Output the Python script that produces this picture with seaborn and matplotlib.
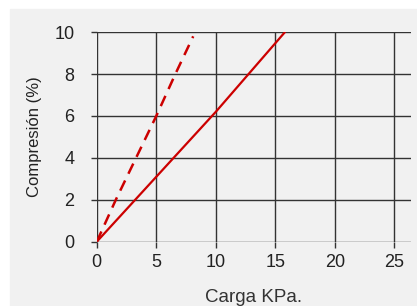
import pandas as pd
import seaborn as sns
import matplotlib.pyplot as plt
from matplotlib.patches import Rectangle

# data
carga_solid = [0, 5, 10, 15.8]
comp_solid = [0, 3.1, 6.2, 10]
carga_dash = [0, 1.6, 3.3, 5, 6.6, 8.1]
comp_dash = [0, 2, 4, 6, 8, 9.8]
x_ticks = [0, 5, 10, 15, 20, 25]
y_ticks = [0, 2, 4, 6, 8, 10]

BG = '#f1f1f1'
RED = '#cc0000'
GRID = '#333333'

sns.set_style('white')
plt.rcParams['font.family'] = ['Liberation Sans', 'DejaVu Sans']

fig = plt.figure(figsize=(4.17, 3.06), dpi=100, facecolor='white')
fig.patches.append(Rectangle((10 / 417, 0), 1, 1 - 9 / 306,
                             transform=fig.transFigure, color=BG, zorder=-5))
ax = fig.add_axes([0.232, 0.210, 0.754, 0.685])
ax.set_facecolor(BG)

solid = pd.DataFrame({'x': carga_solid, 'y': comp_solid})
dash = pd.DataFrame({'x': carga_dash, 'y': comp_dash})

sns.lineplot(data=solid, x='x', y='y', ax=ax, color=RED, lw=1.6,
             sort=False, zorder=3)
sns.lineplot(data=dash, x='x', y='y', ax=ax, color=RED, lw=1.8,
             sort=False, zorder=3, dashes=False, linestyle=(0, (4.5, 3)))

ax.set_xlim(0, 26.4)
ax.set_ylim(0, 10)
ax.set_xticks(x_ticks)
ax.set_yticks(y_ticks)
ax.grid(True, color=GRID, lw=1)
ax.set_axisbelow(True)
for s in ax.spines.values():
    s.set_visible(False)
ax.tick_params(axis='both', length=4, width=1, color=GRID, direction='out',
               labelsize=13, labelcolor='#222222')
ax.tick_params(axis='y', pad=12)
ax.tick_params(axis='x', pad=5)
ax.tick_params(left=True, bottom=True)

ax.set_xlabel('Carga KPa.', fontsize=13.5, color='#333333', labelpad=13)
ax.set_ylabel('Compresión (%)', fontsize=12, color='#222222', labelpad=9)

fig.savefig('out.png', dpi=100, facecolor=fig.get_facecolor())
